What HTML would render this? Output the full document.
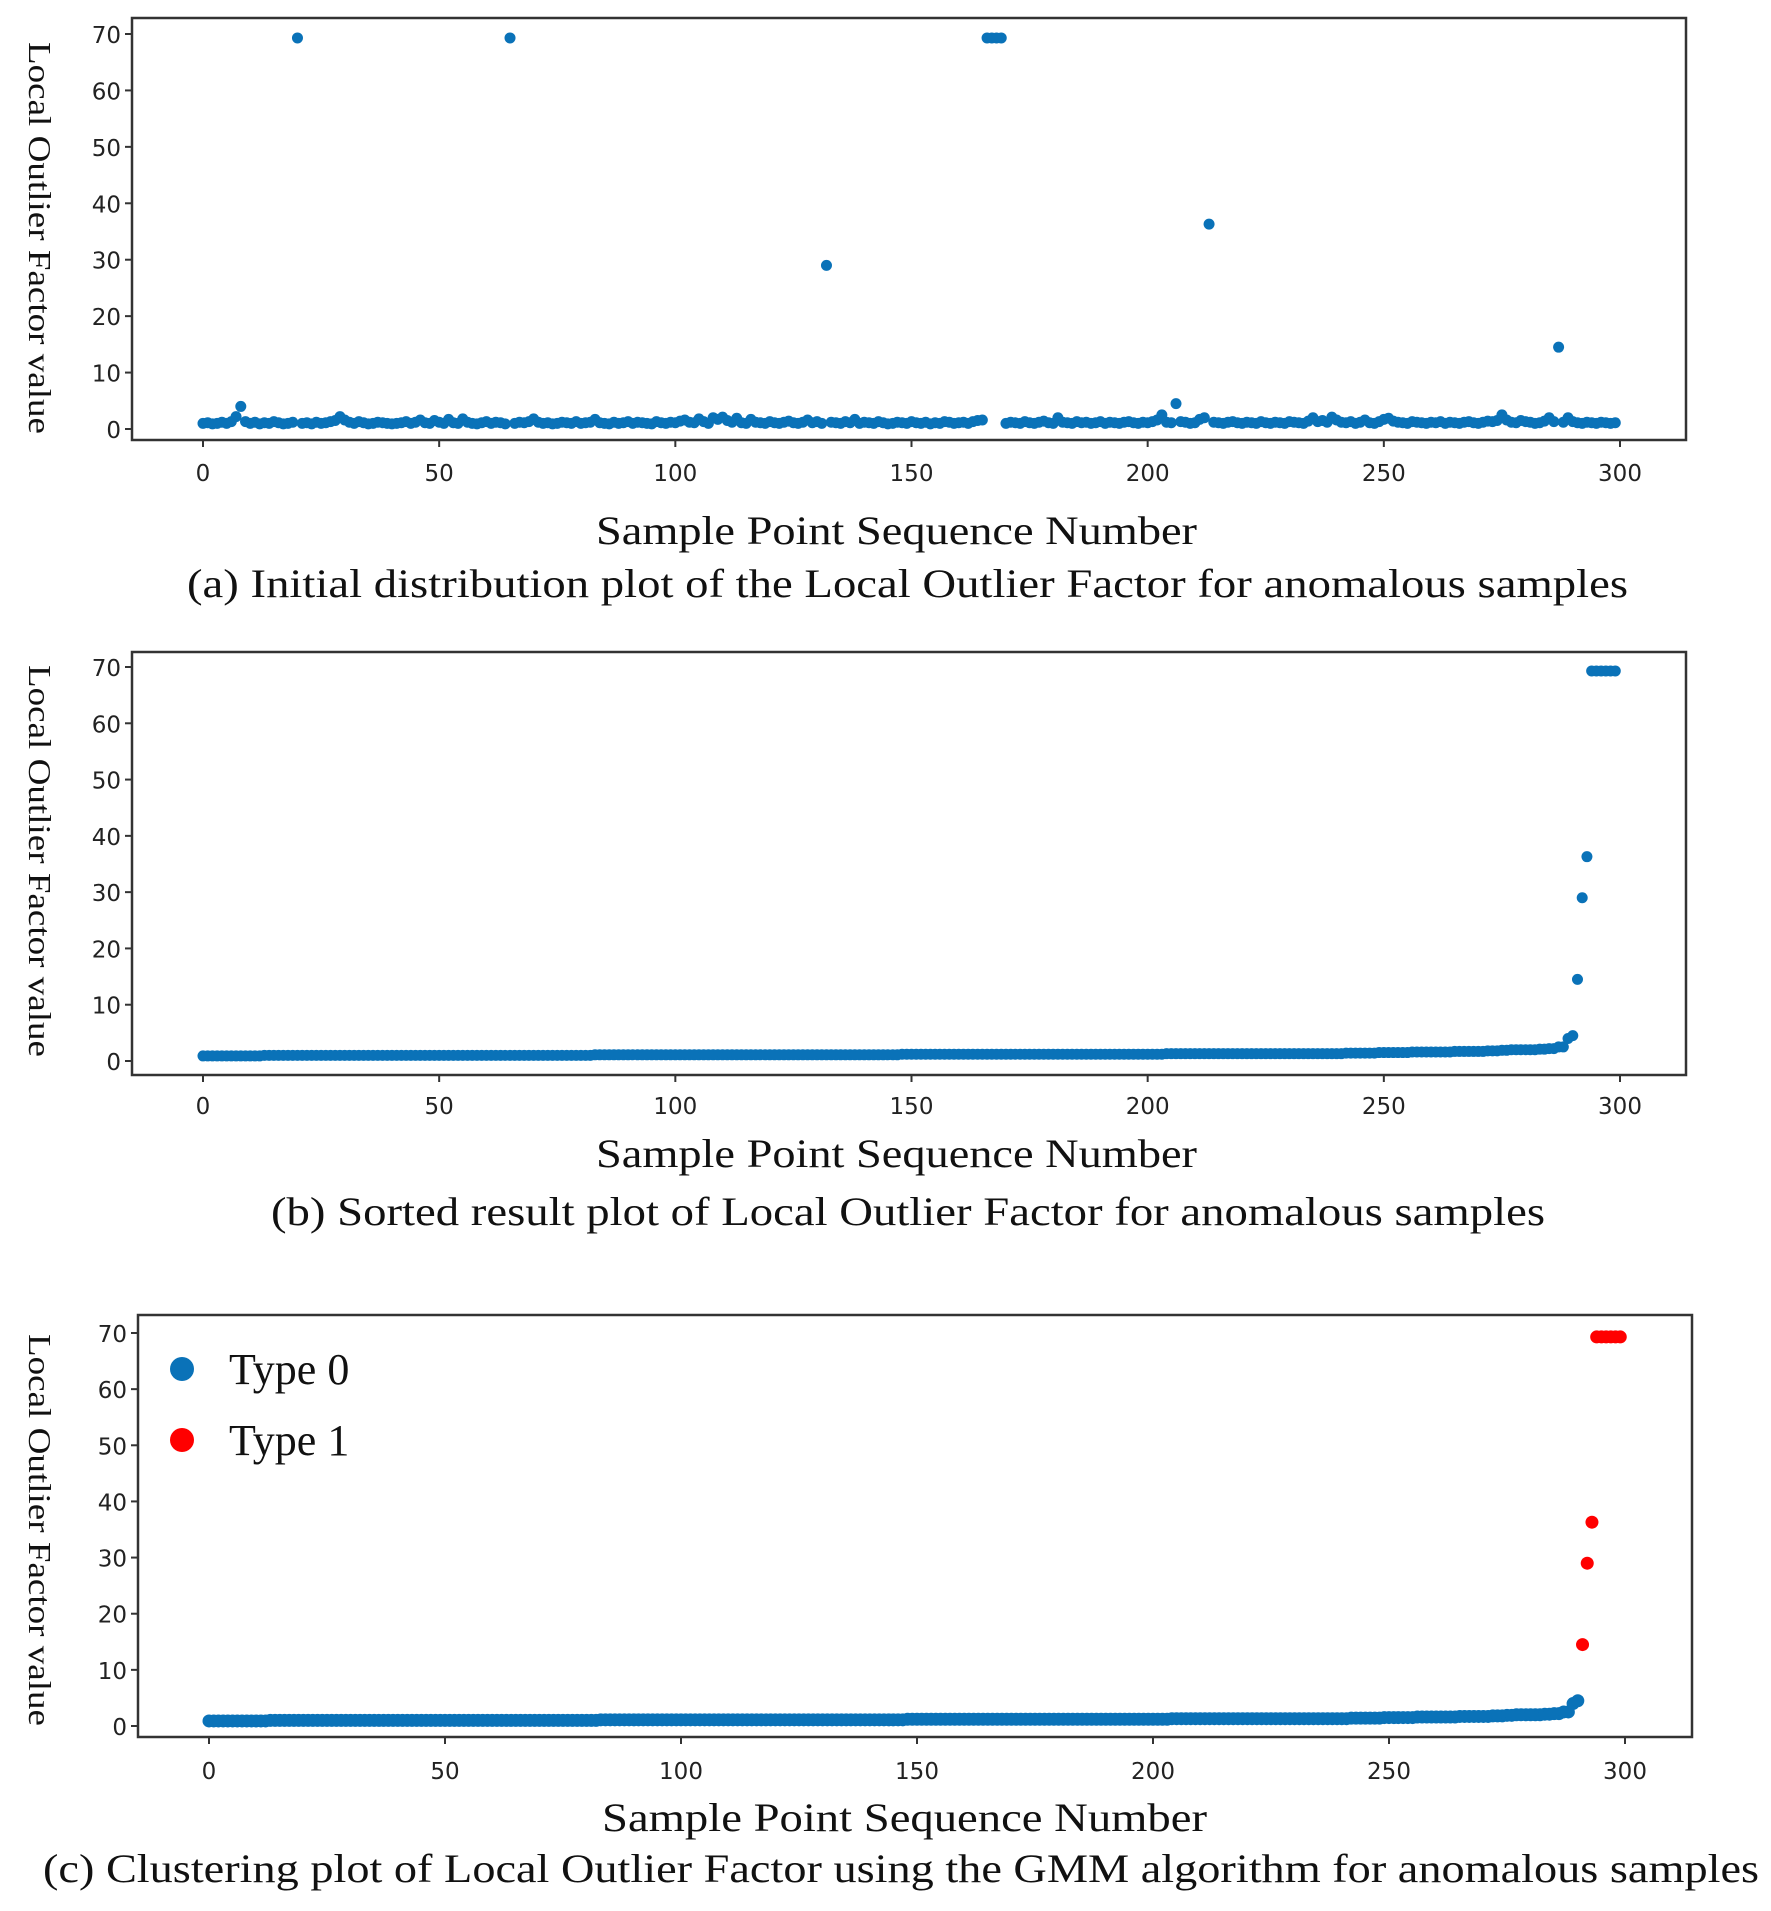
<!DOCTYPE html>
<html><head><meta charset="utf-8">
<style>
html,body{margin:0;padding:0;background:#fff;}
svg{display:block;}
.tick{font-family:"DejaVu Sans","Liberation Sans",sans-serif;font-size:23px;fill:#222;}
.serif{font-family:"Liberation Serif",serif;fill:#111;}
</style></head>
<body>
<svg id="fig" width="1771" height="1911" viewBox="0 0 1771 1911" xmlns="http://www.w3.org/2000/svg"></svg>
<script>
const lofValues = [
1.0,1.1,0.9,1.0,1.2,1.0,1.3,2.2,4.0,1.3,1.0,1.2,0.9,1.1,1.0,1.3,1.1,0.9,1.0,1.2,
69.3,1.0,1.1,0.9,1.2,1.0,1.1,1.3,1.5,2.2,1.6,1.2,1.0,1.3,1.1,0.9,1.0,1.2,1.1,1.0,
0.9,1.0,1.1,1.3,1.0,1.2,1.6,1.1,1.0,1.5,1.2,1.0,1.7,1.1,1.0,1.8,1.2,1.0,0.9,1.1,
1.3,1.0,1.2,1.1,0.9,69.3,1.0,1.2,1.1,1.3,1.8,1.2,1.0,1.1,0.9,1.0,1.2,1.1,1.0,1.3,
1.0,1.1,1.2,1.7,1.1,1.0,0.9,1.2,1.0,1.1,1.3,1.0,1.2,1.1,1.0,0.9,1.3,1.1,1.0,1.2,
1.1,1.4,1.6,1.2,1.1,1.8,1.3,1.0,2.0,1.7,2.1,1.5,1.2,1.9,1.1,1.0,1.7,1.2,1.1,1.0,
1.3,1.1,1.0,1.2,1.4,1.1,1.0,1.2,1.6,1.1,1.3,1.0,29.0,1.2,1.1,1.0,1.3,1.1,1.7,1.0,
1.2,1.1,1.0,1.3,1.1,0.9,1.0,1.2,1.1,1.0,1.3,1.1,1.0,1.2,0.9,1.1,1.0,1.3,1.2,1.0,
1.1,1.2,1.0,1.3,1.5,1.6,69.3,69.3,69.3,69.3,1.0,1.2,1.1,1.0,1.3,1.1,1.0,1.2,1.4,1.1,
1.0,2.0,1.2,1.1,1.0,1.3,1.1,1.2,1.0,1.1,1.3,1.0,1.2,1.1,1.0,1.2,1.3,1.1,1.0,1.2,
1.1,1.3,1.6,2.5,1.2,1.1,4.5,1.3,1.2,1.0,1.1,1.7,2.0,36.3,1.2,1.1,1.0,1.2,1.3,1.1,
1.0,1.2,1.1,1.0,1.3,1.1,1.0,1.2,1.1,1.0,1.3,1.2,1.1,1.0,1.4,2.0,1.3,1.5,1.2,2.1,
1.6,1.2,1.1,1.3,1.0,1.2,1.6,1.1,1.0,1.3,1.7,1.9,1.4,1.2,1.1,1.0,1.3,1.2,1.1,1.0,
1.2,1.1,1.3,1.0,1.2,1.1,1.0,1.2,1.3,1.1,1.0,1.2,1.4,1.3,1.5,2.5,1.6,1.2,1.1,1.5,
1.3,1.2,1.0,1.1,1.4,2.0,1.3,14.5,1.2,2.0,1.3,1.1,1.0,1.2,1.1,1.0,1.2,1.1,1.0,1.1
];
const sortedValues = lofValues.slice().sort((a,b)=>a-b);
const type1Count = 9;
const xTicks = [0,50,100,150,200,250,300];
const yTicks = [0,10,20,30,40,50,60,70];
const legendLabels = ["Type 0","Type 1"];

const NS="http://www.w3.org/2000/svg";
const svg=document.getElementById('fig');
function mk(tag,attrs,parent){const e=document.createElementNS(NS,tag);for(const k in attrs)e.setAttribute(k,attrs[k]);(parent||svg).appendChild(e);return e;}

const BLUE="#0a72b8", RED="#ff0000";
const panels=[
 {id:'a',box:[132,18,1686,440],x0:203,x300:1620,y0:429,y70:34,r:5.5,vals:lofValues,cls:null,
  tickY:472,xl:[596,1197,531],cap:["(a) Initial distribution plot of the Local Outlier Factor  for anomalous samples",187,1628,584],ylab:[40,238]},
 {id:'b',box:[132,652,1686,1075],x0:203,x300:1620,y0:1061,y70:667,r:5.5,vals:sortedValues,cls:null,
  tickY:1105,xl:[596,1197,1154],cap:["(b) Sorted result plot of Local Outlier Factor  for anomalous samples",271,1545,1212],ylab:[40,861]},
 {id:'c',box:[138,1315,1692,1737],x0:209,x300:1625,y0:1726,y70:1333,r:6.5,vals:sortedValues,cls:true,
  tickY:1770,xl:[602,1207,1818],cap:["(c) Clustering plot of Local Outlier Factor using the GMM algorithm for anomalous samples",43,1759,1869],ylab:[40,1530]}
];

panels.forEach(p=>{
  const g=mk('g',{});
  
  
  const xs=v=>p.x0+(p.x300-p.x0)*v/300;
  const ys=v=>p.y0+(p.y70-p.y0)*v/70;
  const [l,t,r,b]=p.box;
  const pts=mk('g',{},g);
  
  
  p.vals.forEach((v,i)=>{
    const isT1=p.cls && i>=p.vals.length-type1Count;
    const c=mk('circle',{cx:xs(i).toFixed(2),cy:ys(v).toFixed(2),r:p.r,fill:isT1?RED:BLUE},pts);
    
    
  });
  const fr=mk('rect',{x:l,y:t,width:r-l,height:b-t,fill:'none',stroke:'#333','stroke-width':2.5},g);
  
  
  xTicks.forEach(v=>{
    const x=xs(v);
    mk('line',{x1:x,x2:x,y1:b,y2:b+7,stroke:'#333','stroke-width':2},g);
    const tx=mk('text',{x:x,y:p.tickY+9,'text-anchor':'middle',class:'tick'},g);
    tx.textContent=v;
    
    
  });
  yTicks.forEach(v=>{
    const y=ys(v);
    mk('line',{x1:l-7,x2:l,y1:y,y2:y,stroke:'#333','stroke-width':2},g);
    const tx=mk('text',{x:l-11,y:y+9,'text-anchor':'end',class:'tick'},g);
    tx.textContent=v;
    
    
  });
  const xl=mk('text',{x:p.xl[0],y:p.xl[2]+13,textLength:p.xl[1]-p.xl[0],lengthAdjust:'spacingAndGlyphs',class:'serif','font-size':40},g);
  xl.textContent='Sample Point Sequence Number';
  
  
  const cap=mk('text',{x:p.cap[1],y:p.cap[3]+13,textLength:p.cap[2]-p.cap[1],lengthAdjust:'spacingAndGlyphs',class:'serif','font-size':40},g);
  cap.textContent=p.cap[0];
  
  
  const yl=mk('text',{x:0,y:0,'text-anchor':'middle',textLength:392,lengthAdjust:'spacingAndGlyphs',class:'serif','font-size':32,transform:`translate(${p.ylab[0]-11},${p.ylab[1]}) rotate(90)`},g);
  yl.textContent='Local Outlier Factor value';
  
  
  if(p.cls){
    const lg=mk('g',{},g);
    
    
    legendLabels.forEach((lab,k)=>{
      const y=1369+k*71;
      const dot=mk('circle',{cx:182,cy:y,r:12,fill:k?RED:BLUE},lg);
      
      
      const tx=mk('text',{x:229,y:y+15,class:'serif','font-size':44},lg);
      tx.textContent=lab;
      
      
    });
  }
});
</script>
</body></html>
